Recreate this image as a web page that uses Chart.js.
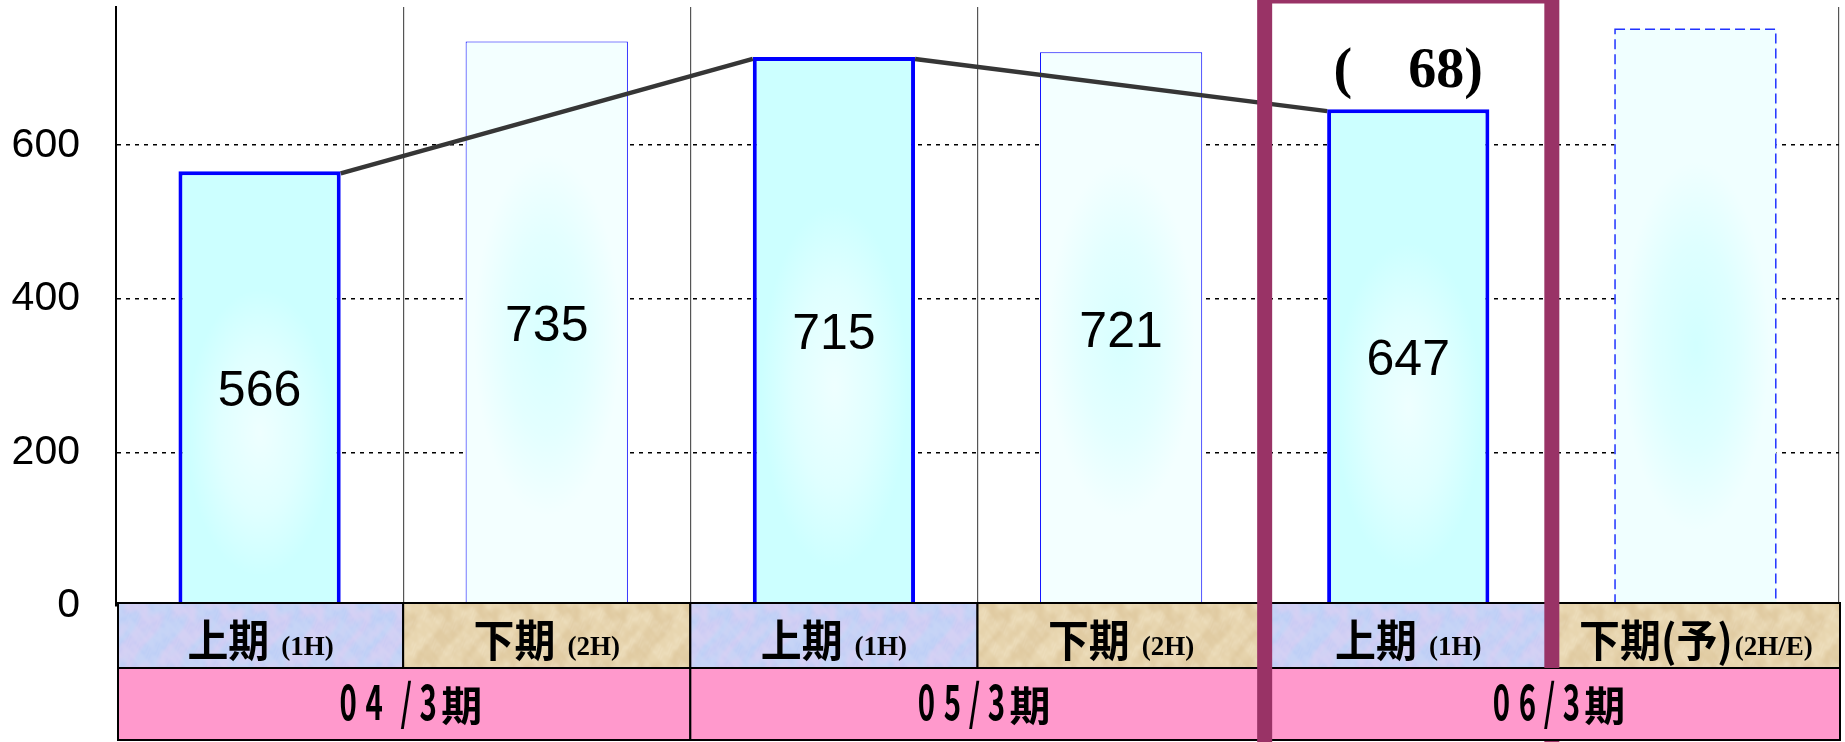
<!DOCTYPE html>
<html><head><meta charset="utf-8">
<style>html,body{margin:0;padding:0;background:#fff;overflow:hidden}canvas{display:block}</style>
<script src="https://cdn.jsdelivr.net/npm/chart.js@4/dist/chart.umd.min.js"></script>
</head><body><canvas id="c" width="1845" height="742"></canvas>
<script>
// ---- data ----
const categories  = ['上期', '下期', '上期', '下期', '上期', '下期(予)'];
const halfCodes   = ['(1H)', '(2H)', '(1H)', '(2H)', '(1H)', '(2H/E)'];
const fiscalYears = ['04 /3期', '05/3期', '06/3期'];
const sales       = [566, 735, 715, 721, 647, 752];
const changeNotes = ['', '', '', '', '(　68)', ''];
const yTickValues = [0, 200, 400, 600];
const yMax = 780;

// ---- helpers ----
const BAR_PCT = 0.565;
const isFirstHalf = i => halfCodes[i] === '(1H)';
const isForecast  = i => halfCodes[i].includes('E');
const canvas = document.getElementById('c');
const mainCtx = canvas.getContext('2d');

function makeTexture(base, c1, c2) {
  const n = 128, f = 2 * Math.PI / n;
  const cv = document.createElement('canvas'); cv.width = cv.height = n;
  const g = cv.getContext('2d'); const img = g.createImageData(n, n);
  for (let y = 0; y < n; y++) for (let x = 0; x < n; x++) {
    const a = 0.5 + 0.5 * Math.sin(x * f * 3 + 1.8 * Math.sin(y * f * 2) + Math.cos(x * f * 5 + y * f * 4));
    const b = 0.5 + 0.5 * Math.sin(y * f * 5 + 1.5 * Math.cos(x * f * 3) + 0.8 * Math.sin(x * f * 11 - y * f * 7));
    const d = 0.5 + 0.5 * Math.sin(x * f * 23 + y * f * 17 + 2 * Math.sin(x * f * 13));
    const wa = a * 0.55, wb = b * 0.35 * (0.6 + 0.4 * d);
    const k = (y * n + x) * 4;
    for (let ch = 0; ch < 3; ch++) img.data[k + ch] = base[ch] * (1 - wa - wb) + c1[ch] * wa + c2[ch] * wb;
    img.data[k + 3] = 255;
  }
  g.putImageData(img, 0, 0);
  return mainCtx.createPattern(cv, 'repeat');
}
const blueTex = makeTexture([198, 212, 246], [224, 206, 242], [176, 198, 246]);
const tanTex  = makeTexture([232, 214, 176], [218, 194, 150], [245, 234, 208]);

function barStyle(i) {
  if (isForecast(i)) return { base: '#F0FFFF', glow: [208, 255, 255], cy: 0.55, rx: 0.45, ry: 0.32 };
  if (isFirstHalf(i)) return { base: '#CCFFFF', glow: [240, 255, 255], cy: 0.6, rx: 0.45, ry: 0.33 };
  return { base: '#F3FFFF', glow: [214, 255, 255], cy: 0.52, rx: 0.45, ry: 0.32 };
}

function barFill(c) {
  const ch = c.chart, area = ch.chartArea, xs = ch.scales.x, ys = ch.scales.y;
  const i = c.dataIndex;
  const st = barStyle(i);
  if (!area || !xs || !ys || c.type !== 'data') return st.base;
  const cw = (area.right - area.left) / categories.length;
  const w = cw * BAR_PCT;
  const left = xs.getPixelForValue(i) - w / 2;
  const top = ys.getPixelForValue(c.parsed.y);
  const h = ys.getPixelForValue(0) - top;
  const W = Math.max(2, Math.ceil(w)), H = Math.max(2, Math.ceil(h));
  const cv = document.createElement('canvas'); cv.width = W; cv.height = H;
  const g = cv.getContext('2d');
  g.fillStyle = st.base; g.fillRect(0, 0, W, H);
  g.save();
  g.translate(W / 2, H * st.cy);
  g.scale(W * st.rx, H * st.ry);
  const rg = g.createRadialGradient(0, 0, 0, 0, 0, 1);
  const [r, gg, b] = st.glow;
  rg.addColorStop(0, `rgba(${r},${gg},${b},0.95)`);
  rg.addColorStop(0.55, `rgba(${r},${gg},${b},0.55)`);
  rg.addColorStop(1, `rgba(${r},${gg},${b},0)`);
  g.fillStyle = rg; g.fillRect(-3, -3, 6, 6);
  g.restore();
  const p = ch.ctx.createPattern(cv, 'no-repeat');
  p.setTransform(new DOMMatrix([1, 0, 0, 1, left, top]));
  return p;
}

function drawCondensed(ctx, text, cx, baseline) {
  const adv = chr => /[0-9]/.test(chr) ? 26 : chr === '/' ? 18 : chr === ' ' ? 10 : 40;
  let total = 0; for (const chr of text) total += adv(chr);
  let x = cx - total / 2;
  ctx.textAlign = 'left'; ctx.textBaseline = 'alphabetic'; ctx.fillStyle = '#000';
  for (const chr of text) {
    const a = adv(chr);
    if (chr === ' ') { x += a; continue; }
    if (/[0-9\/]/.test(chr)) {
      ctx.save();
      ctx.font = 'bold 49px "Noto Sans CJK JP"';
      const gw = ctx.measureText(chr).width * 0.6;
      ctx.translate(x + (a - gw) / 2, baseline);
      ctx.scale(0.6, 1);
      ctx.fillText(chr, 0, 0);
      ctx.restore();
    } else {
      ctx.font = 'bold 41px "Noto Sans CJK JP"';
      ctx.fillText(chr, x, baseline + 1);
    }
    x += a;
  }
}

const overlay = {
  id: 'overlay',
  afterDatasetsDraw(chart) {
    const ctx = chart.ctx;
    const bars = chart.getDatasetMeta(0).data;
    const vals = chart.data.datasets[0].data;
    bars.forEach((b, i) => {
      if (!isForecast(i)) return;
      ctx.save();
      ctx.setLineDash([10, 5]);
      ctx.strokeStyle = '#2233FF'; ctx.lineWidth = 1.5;
      ctx.strokeRect(b.x - b.width / 2 + 0.75, b.y + 0.75, b.width - 1.5, b.base - b.y);
      ctx.restore();
    });
    const fh = bars.map((b, i) => i).filter(i => isFirstHalf(i) && !isForecast(i));
    ctx.save();
    ctx.strokeStyle = '#363636'; ctx.lineWidth = 4.5;
    for (let k = 0; k < fh.length - 1; k++) {
      const b1 = bars[fh[k]], b2 = bars[fh[k + 1]];
      ctx.beginPath();
      ctx.moveTo(b1.x + b1.width / 2, b1.y + 2);
      ctx.lineTo(b2.x - b2.width / 2, b2.y + 2);
      ctx.stroke();
    }
    ctx.restore();
    ctx.save();
    ctx.fillStyle = '#000'; ctx.textAlign = 'center'; ctx.textBaseline = 'middle';
    ctx.font = '50px "Liberation Sans", Arial';
    bars.forEach((b, i) => {
      if (isForecast(i)) return;
      ctx.fillText(String(vals[i]), b.x, (b.y + b.base) / 2 + 4);
    });
    ctx.font = 'bold 56px "Liberation Serif", "Times New Roman"';
    ctx.textBaseline = 'alphabetic';
    bars.forEach((b, i) => {
      if (!changeNotes[i]) return;
      ctx.fillText(changeNotes[i], b.x, b.y - 22);
    });
    ctx.restore();
  },
  afterDraw(chart) {
    const ctx = chart.ctx, xs = chart.scales.x, area = chart.chartArea;
    const cw = (area.right - area.left) / categories.length;
    const r1Top = area.bottom - 3, r1Bot = r1Top + 65, r2Bot = r1Bot + 72;
    const SX = 0.93;
    ctx.save();
    categories.forEach((lab, i) => {
      const l = xs.getPixelForValue(i) - cw / 2 + (i === 0 ? 2 : 0);
      const r = xs.getPixelForValue(i) + cw / 2 + (i === categories.length - 1 ? 1 : 0);
      ctx.fillStyle = isFirstHalf(i) ? blueTex : tanTex;
      ctx.fillRect(l, r1Top, r - l, r1Bot - r1Top);
      ctx.strokeStyle = '#000'; ctx.lineWidth = 2;
      ctx.strokeRect(l, r1Top, r - l, r1Bot - r1Top);
      ctx.fillStyle = '#000'; ctx.textAlign = 'left'; ctx.textBaseline = 'alphabetic';
      ctx.font = 'bold 44px "Noto Sans CJK JP"';
      const w1 = ctx.measureText(lab).width * SX;
      ctx.font = 'bold 27px "Liberation Serif", "Times New Roman"';
      const w2 = ctx.measureText(halfCodes[i]).width;
      const gap = isForecast(i) ? 2 : 12;
      const x0 = (l + r) / 2 - (w1 + gap + w2) / 2;
      ctx.save();
      ctx.font = 'bold 44px "Noto Sans CJK JP"';
      ctx.translate(x0, r1Top + 54);
      ctx.scale(SX, 1);
      ctx.fillText(lab, 0, 0);
      ctx.restore();
      ctx.font = 'bold 27px "Liberation Serif", "Times New Roman"';
      ctx.fillText(halfCodes[i], x0 + w1 + gap, r1Top + 52);
    });
    fiscalYears.forEach((fy, k) => {
      const l = xs.getPixelForValue(2 * k) - cw / 2 + (k === 0 ? 2 : 0);
      const r = xs.getPixelForValue(2 * k + 1) + cw / 2 + (k === fiscalYears.length - 1 ? 1 : 0);
      ctx.fillStyle = '#FF99CC';
      ctx.fillRect(l, r1Bot, r - l, r2Bot - r1Bot);
      ctx.strokeStyle = '#000'; ctx.lineWidth = 2;
      ctx.strokeRect(l, r1Bot, r - l, r2Bot - r1Bot);
      drawCondensed(ctx, fy, (l + r) / 2 + 4, r1Bot + 52);
    });
    let hi = -1; categories.forEach((c, i) => { if (!isForecast(i)) hi = i; });
    const hl = xs.getPixelForValue(hi) - cw / 2, hr = xs.getPixelForValue(hi) + cw / 2;
    ctx.strokeStyle = '#993366'; ctx.lineWidth = 15; ctx.lineCap = 'butt';
    ctx.beginPath();
    ctx.moveTo(hl, 800); ctx.lineTo(hl, -4); ctx.lineTo(hr, -4); ctx.lineTo(hr, r1Bot);
    ctx.stroke();
    ctx.beginPath(); ctx.moveTo(hr, r2Bot + 1); ctx.lineTo(hr, 800); ctx.stroke();
    ctx.restore();
  }
};

const zeroPad = s => { s.paddingTop = 0; s.paddingBottom = 0; s.paddingLeft = 0; s.paddingRight = 0; };

new Chart(canvas, {
  type: 'bar',
  data: {
    labels: categories,
    datasets: [{
      data: sales,
      backgroundColor: barFill,
      borderColor: '#0000FF',
      borderWidth: c => isForecast(c.dataIndex) ? 0 : (isFirstHalf(c.dataIndex) ? 4 : 1),
      borderSkipped: 'start',
      barPercentage: BAR_PCT,
      categoryPercentage: 1
    }]
  },
  options: {
    responsive: false,
    devicePixelRatio: 1,
    animation: false,
    events: [],
    layout: { padding: { left: 0, right: 6, top: 7, bottom: 136 } },
    plugins: { legend: { display: false }, tooltip: { enabled: false } },
    scales: {
      x: {
        grid: { color: '#555', lineWidth: 1.2, offset: true, drawTicks: false },
        border: { display: false },
        ticks: { display: false },
        afterFit: s => { s.height = 0; zeroPad(s); }
      },
      y: {
        min: 0, max: yMax,
        afterBuildTicks: s => { s.ticks = yTickValues.map(v => ({ value: v })); },
        ticks: { color: '#000', padding: 36, font: { family: '"Liberation Sans", Arial', size: 41 } },
        grid: { color: '#000', lineWidth: 1.5, drawTicks: false },
        border: { display: true, color: '#000', width: 2, dash: [4, 5] },
        afterFit: s => { s.width = 116; zeroPad(s); }
      }
    }
  },
  plugins: [overlay]
});
</script></body></html>
